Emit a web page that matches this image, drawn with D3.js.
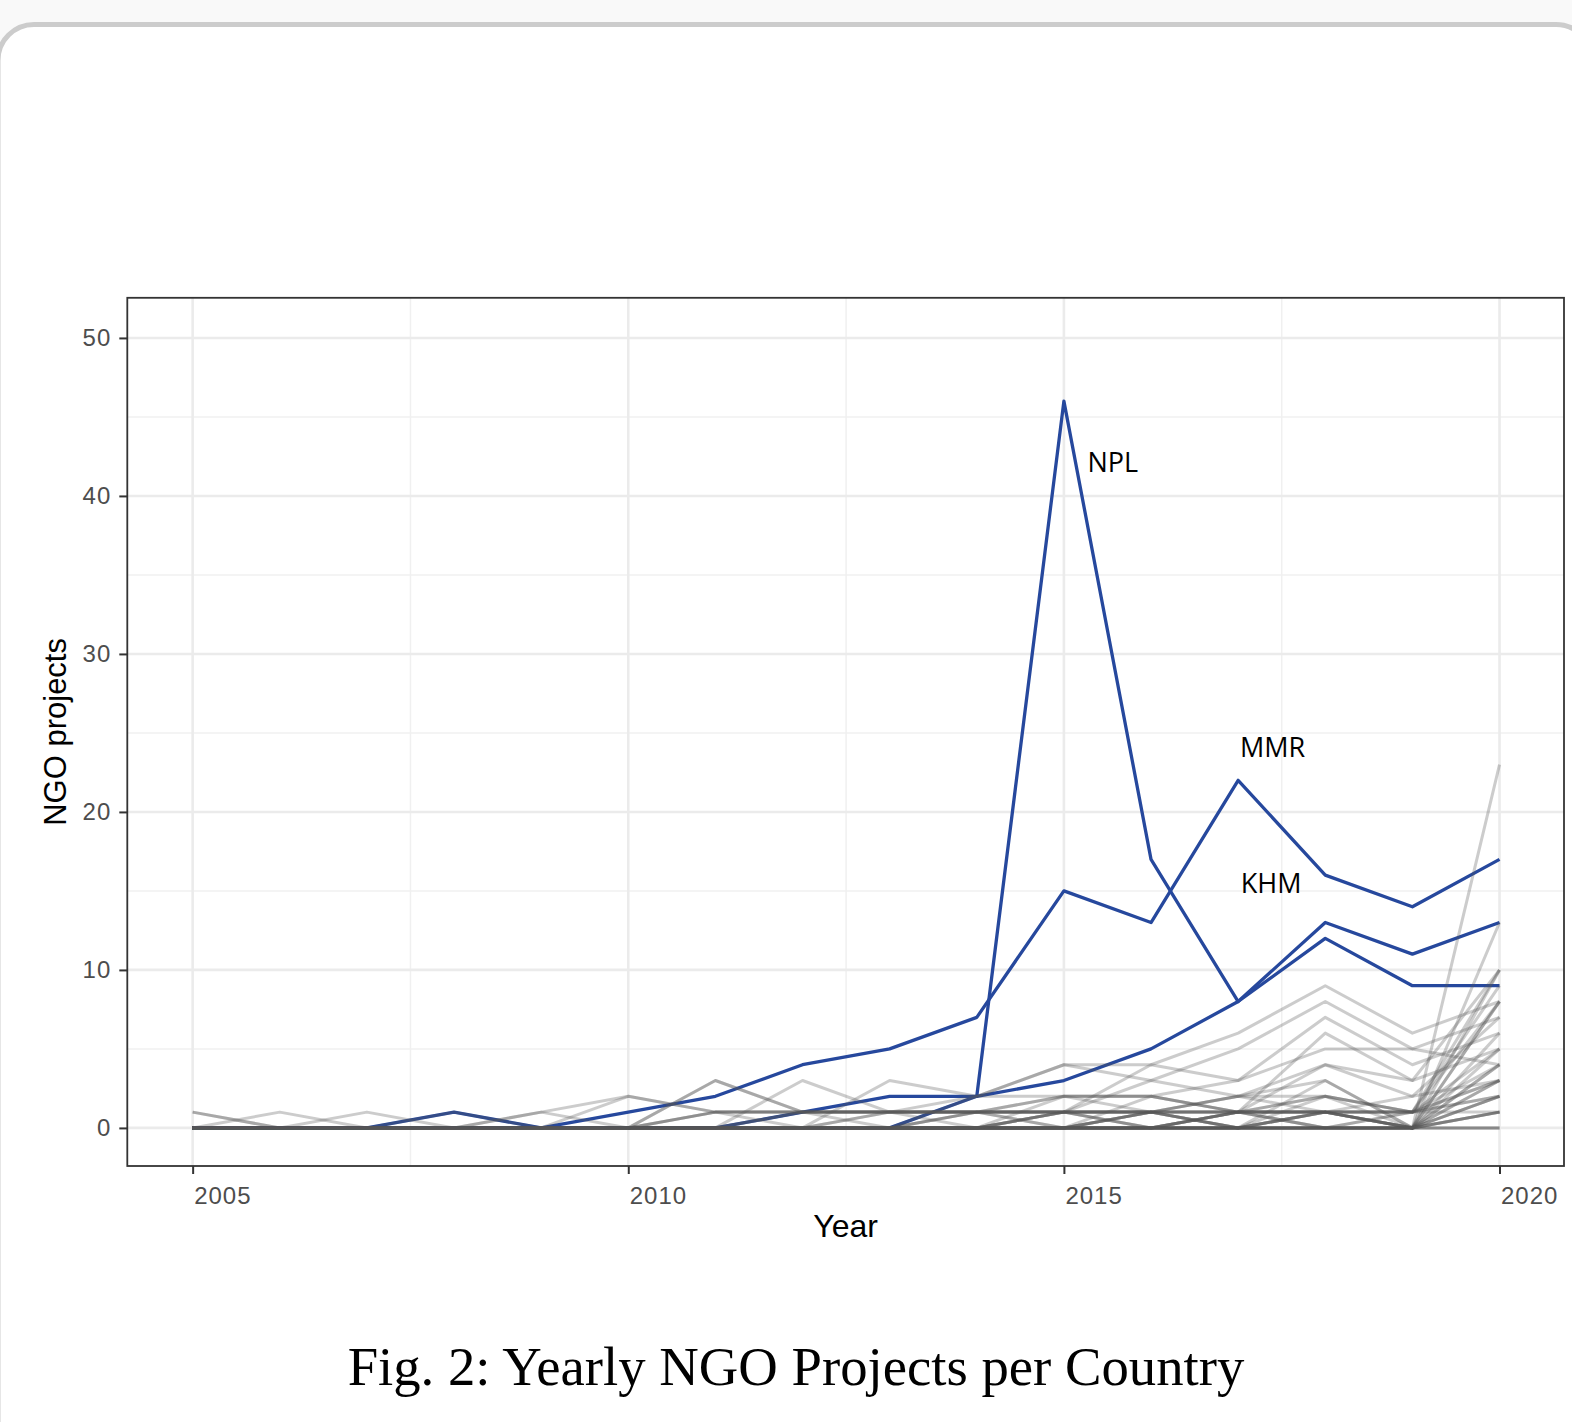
<!DOCTYPE html>
<html>
<head>
<meta charset="utf-8">
<script src="https://cdn.jsdelivr.net/npm/d3@7"></script>
<style>
  html, body { margin: 0; padding: 0; background: #f9f9f9; }
  svg { display: block; }
</style>
</head>
<body>
<svg id="chart" width="1572" height="1422"></svg>
<script>
// Years covered by the project counts
const years = [2005, 2006, 2007, 2008, 2009, 2010, 2011, 2012, 2013, 2014, 2015, 2016, 2017, 2018, 2019, 2020];

// Highlighted countries
const nplValues = [0, 0, 0, 0, 0, 0, 0, 0, 0, 2, 46, 17, 8, 12, 9, 9];
const mmrValues = [0, 0, 0, 1, 0, 1, 2, 4, 5, 7, 15, 13, 22, 16, 14, 17];
const khmValues = [0, 0, 0, 0, 0, 0, 0, 1, 2, 2, 3, 5, 8, 13, 11, 13];
const highlightNames = ["NPL", "MMR", "KHM"];

// All remaining countries, one row per country
const otherValues = [
  [1, 0, 0, 0, 0, 0, 0, 0, 0, 0, 0, 0, 0, 0, 0, 1],
  [1, 0, 0, 0, 0, 0, 0, 0, 0, 0, 0, 0, 1, 0, 0, 2],
  [0, 1, 0, 0, 0, 0, 0, 0, 0, 0, 0, 0, 0, 0, 0, 0],
  [0, 0, 1, 0, 0, 0, 0, 0, 0, 0, 0, 0, 0, 0, 0, 3],
  [0, 0, 0, 1, 0, 0, 0, 0, 0, 0, 0, 0, 0, 0, 0, 0],
  [0, 0, 0, 0, 1, 0, 0, 0, 0, 0, 0, 0, 0, 1, 0, 2],
  [0, 0, 0, 0, 1, 2, 1, 1, 1, 1, 1, 1, 1, 1, 1, 1],
  [0, 0, 0, 0, 0, 2, 1, 0, 1, 1, 1, 0, 1, 1, 0, 4],
  [0, 0, 0, 0, 0, 0, 3, 1, 1, 1, 1, 1, 2, 2, 1, 3],
  [0, 0, 0, 0, 0, 0, 3, 1, 0, 1, 0, 1, 0, 1, 0, 5],
  [0, 0, 0, 0, 0, 0, 0, 3, 1, 2, 2, 2, 1, 2, 1, 8],
  [0, 0, 0, 0, 0, 0, 0, 0, 3, 2, 4, 4, 6, 9, 6, 8],
  [0, 0, 0, 0, 0, 0, 0, 0, 0, 2, 4, 3, 5, 8, 5, 7],
  [0, 0, 0, 0, 0, 0, 0, 0, 0, 1, 2, 2, 3, 7, 4, 6],
  [0, 0, 0, 0, 0, 0, 0, 0, 0, 0, 2, 2, 1, 6, 3, 5],
  [0, 0, 0, 0, 0, 0, 0, 0, 0, 0, 1, 4, 3, 5, 5, 4],
  [0, 0, 0, 0, 0, 0, 0, 0, 0, 0, 0, 1, 2, 4, 2, 3],
  [0, 0, 0, 0, 0, 0, 0, 0, 0, 0, 1, 3, 2, 3, 0, 23],
  [0, 0, 0, 0, 0, 0, 0, 1, 1, 1, 1, 1, 0, 2, 0, 13],
  [0, 0, 0, 0, 0, 0, 1, 1, 1, 1, 2, 1, 1, 1, 0, 10],
  [0, 0, 0, 0, 0, 0, 0, 0, 0, 0, 0, 2, 1, 4, 3, 10],
  [0, 0, 0, 0, 0, 0, 0, 0, 0, 0, 0, 0, 1, 2, 1, 9],
  [0, 0, 0, 0, 0, 0, 0, 0, 0, 0, 0, 1, 0, 3, 0, 8],
  [0, 0, 0, 0, 0, 0, 0, 0, 0, 1, 0, 1, 2, 1, 2, 7],
  [0, 0, 0, 0, 0, 0, 0, 0, 0, 0, 0, 0, 0, 1, 0, 6],
  [0, 0, 0, 0, 0, 0, 0, 0, 0, 0, 1, 0, 1, 0, 1, 5],
  [0, 0, 0, 0, 0, 0, 0, 0, 0, 0, 0, 1, 1, 1, 0, 4],
  [0, 0, 0, 0, 0, 0, 0, 0, 0, 0, 0, 0, 0, 0, 1, 4],
  [0, 0, 0, 0, 0, 0, 0, 0, 0, 0, 0, 0, 1, 0, 0, 3],
  [0, 0, 0, 0, 0, 0, 0, 0, 0, 0, 0, 0, 0, 0, 0, 2],
  [0, 0, 0, 0, 0, 0, 0, 0, 0, 0, 0, 0, 0, 1, 1, 2],
  [0, 0, 0, 0, 0, 0, 0, 0, 0, 0, 1, 1, 0, 0, 0, 1],
  [0, 0, 0, 0, 0, 0, 0, 0, 0, 0, 0, 0, 0, 0, 0, 1],
  [0, 0, 0, 0, 0, 0, 1, 1, 1, 1, 1, 1, 1, 1, 0, 8],
  [0, 0, 0, 0, 0, 0, 0, 1, 1, 1, 1, 0, 1, 1, 1, 3],
  [0, 0, 0, 0, 0, 0, 1, 1, 1, 0, 1, 1, 1, 1, 1, 2],
  [0, 0, 0, 0, 0, 0, 0, 0, 1, 1, 1, 1, 0, 1, 1, 10],
  [0, 0, 0, 0, 0, 0, 0, 0, 0, 0, 0, 0, 0, 0, 0, 1],
  [0, 0, 0, 0, 0, 0, 0, 0, 0, 0, 0, 0, 0, 0, 0, 0]
];

// Axis ticks and labels
const xTicks = [2005, 2010, 2015, 2020];
const xMinor = [2007.5, 2012.5, 2017.5];
const yTicks = [0, 10, 20, 30, 40, 50];
const yMinor = [5, 15, 25, 35, 45];
const xTitle = "Year";
const yTitle = "NGO projects";
const caption = "Fig. 2: Yearly NGO Projects per Country";

// Where each country label sits, in data units (year, projects)
const labelYears = [2015.27, 2017.02, 2017.03];
const labelValues = [41.5, 23.5, 14.9];

const svg = d3.select("#chart");

// Card background
svg.append("rect")
  .attr("x", -2).attr("y", 24.5)
  .attr("width", 1594).attr("height", 1500)
  .attr("rx", 36).attr("ry", 36)
  .attr("fill", "#ffffff")
  .attr("stroke", "#cccccc")
  .attr("stroke-width", 5);

const panel = { left: 127.3, right: 1564, top: 297.8, bottom: 1166 };

const x = d3.scaleLinear().domain([2004.25, 2020.74]).range([panel.left, panel.right]);
const y = d3.scaleLinear().domain([-2.41, 52.54]).range([panel.bottom, panel.top]);

// Grid
const grid = svg.append("g");
grid.selectAll(".ymin").data(yMinor).join("line")
  .attr("x1", panel.left).attr("x2", panel.right)
  .attr("y1", d => y(d)).attr("y2", d => y(d))
  .attr("stroke", "#f0f0f0").attr("stroke-width", 1.5);
grid.selectAll(".xmin").data(xMinor).join("line")
  .attr("y1", panel.top).attr("y2", panel.bottom)
  .attr("x1", d => x(d)).attr("x2", d => x(d))
  .attr("stroke", "#f0f0f0").attr("stroke-width", 1.5);
grid.selectAll(".ymaj").data(yTicks).join("line")
  .attr("x1", panel.left).attr("x2", panel.right)
  .attr("y1", d => y(d)).attr("y2", d => y(d))
  .attr("stroke", "#ebebeb").attr("stroke-width", 2.6);
grid.selectAll(".xmaj").data(xTicks).join("line")
  .attr("y1", panel.top).attr("y2", panel.bottom)
  .attr("x1", d => x(d)).attr("x2", d => x(d))
  .attr("stroke", "#ebebeb").attr("stroke-width", 2.6);

const line = d3.line()
  .x((d, i) => x(years[i]))
  .y(d => y(d));

// Highlighted countries underneath, the rest drawn over them
const highlightValues = [nplValues, mmrValues, khmValues];
svg.append("g").selectAll("path").data(highlightValues).join("path")
  .attr("d", line)
  .attr("fill", "none")
  .attr("stroke", "#26489d")
  .attr("stroke-width", 3.3)
  .attr("stroke-linejoin", "round");

svg.append("g").selectAll("path").data(otherValues).join("path")
  .attr("d", line)
  .attr("fill", "none")
  .attr("stroke", "#555555")
  .attr("stroke-opacity", 0.3)
  .attr("stroke-width", 3)
  .attr("stroke-linejoin", "round");

// Country labels
svg.append("g").selectAll("text").data(highlightNames).join("text")
  .attr("x", (d, i) => x(labelYears[i]))
  .attr("y", (d, i) => y(labelValues[i]))
  .attr("font-family", "'Open Sans', sans-serif")
  .attr("font-size", 27)
  .attr("fill", "#000")
  .text(d => d);

// Panel border
svg.append("rect")
  .attr("x", panel.left).attr("y", panel.top)
  .attr("width", panel.right - panel.left).attr("height", panel.bottom - panel.top)
  .attr("fill", "none").attr("stroke", "#333333").attr("stroke-width", 1.8);

// Axes
const xAxis = svg.append("g")
  .attr("transform", `translate(0,${panel.bottom})`)
  .call(d3.axisBottom(x).tickValues(xTicks).tickFormat(d3.format("d")).tickSize(8).tickPadding(13));
const yAxis = svg.append("g")
  .attr("transform", `translate(${panel.left},0)`)
  .call(d3.axisLeft(y).tickValues(yTicks).tickSize(8).tickPadding(8));

[xAxis, yAxis].forEach(g => {
  g.select(".domain").remove();
  g.selectAll(".tick line").attr("stroke", "#333333").attr("stroke-width", 2);
  g.selectAll(".tick text")
    .attr("fill", "#4d4d4d")
    .attr("font-family", "'Liberation Sans', Arial, sans-serif")
    .attr("font-size", 24)
    .attr("letter-spacing", 1);
});
xAxis.selectAll(".tick text").attr("text-anchor", "start").attr("x", 1);

// Axis titles
svg.append("text")
  .attr("x", (panel.left + panel.right) / 2).attr("y", 1237)
  .attr("text-anchor", "middle")
  .attr("font-family", "'Liberation Sans', Arial, sans-serif")
  .attr("font-size", 32).attr("fill", "#000")
  .text(xTitle);
svg.append("text")
  .attr("transform", `translate(66,${(panel.top + panel.bottom) / 2}) rotate(-90)`)
  .attr("text-anchor", "middle")
  .attr("font-family", "'Liberation Sans', Arial, sans-serif")
  .attr("font-size", 31).attr("fill", "#000")
  .text(yTitle);

// Caption
const cap = svg.append("text")
  .attr("x", 796).attr("y", 1385)
  .attr("text-anchor", "middle")
  .attr("font-family", "'Liberation Serif', 'Times New Roman', serif")
  .attr("font-size", 52).attr("fill", "#000")
  .text(caption);
const capWidth = cap.node().getComputedTextLength();
cap.attr("font-size", 52 * 897 / capWidth);
</script>
</body>
</html>
